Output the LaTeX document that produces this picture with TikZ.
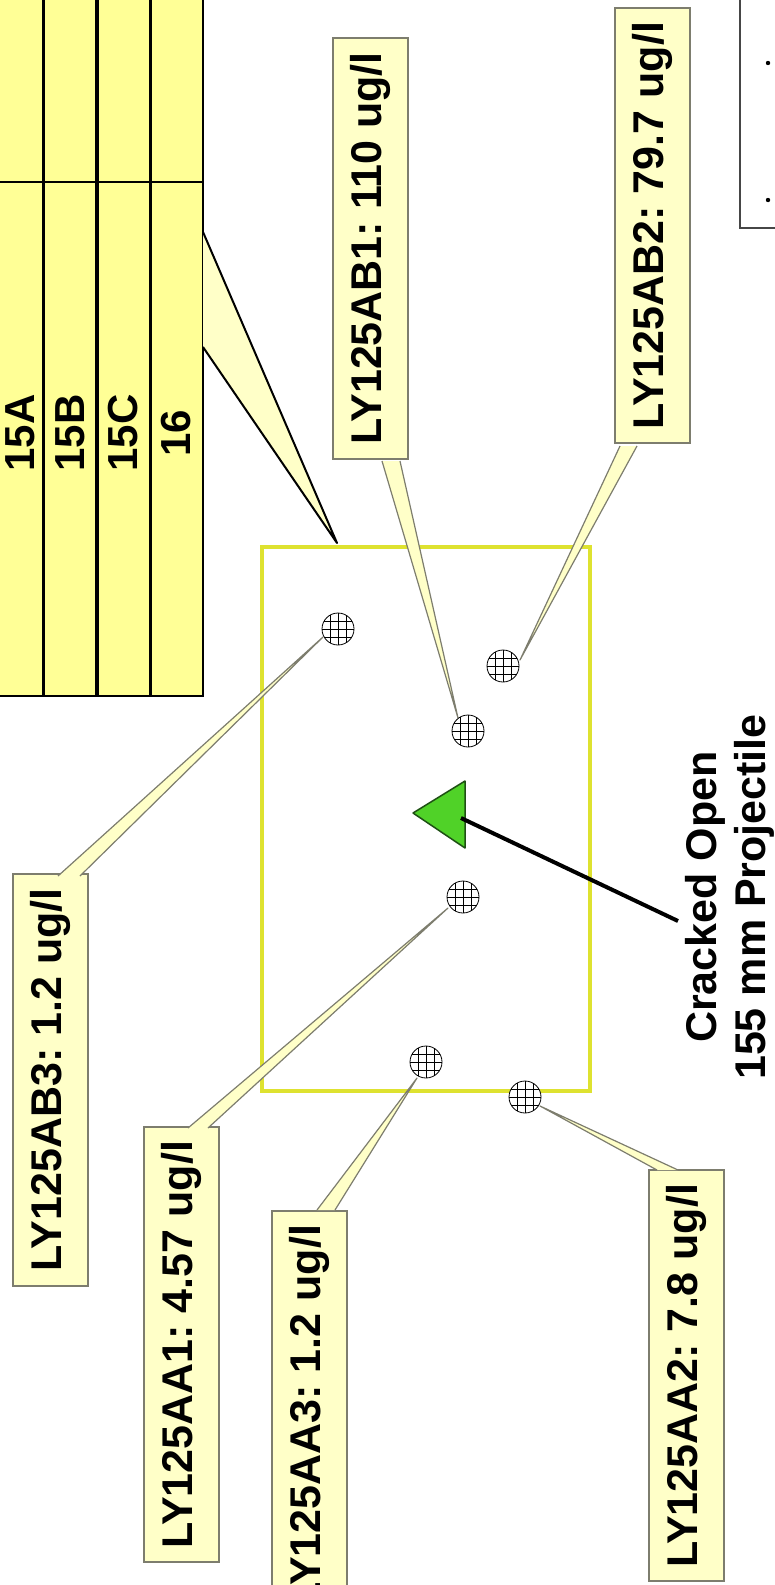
\documentclass[tikz,border=0pt]{standalone}
\usepackage{fontspec}
\setmainfont{Liberation Sans}
\frenchspacing
\definecolor{cellyellow}{RGB}{255,255,150}
\definecolor{lblfill}{RGB}{255,255,200}
\definecolor{lblgray}{RGB}{125,125,110}
\definecolor{rectyellow}{RGB}{222,226,48}
\definecolor{projgreen}{RGB}{80,210,40}
\definecolor{darkgreen}{RGB}{30,80,20}
\definecolor{legendgray}{RGB}{70,70,70}
\newcommand{\calloutwedge}[3]{%
  \fill[lblfill] #1 -- #3 -- #2 -- cycle;
  \draw[lblgray, line width=1.2pt, line join=round] #1 -- #3 -- #2;}
\begin{document}
\begin{tikzpicture}[x=1pt,y=-1pt,
  cellfont/.style={font=\bfseries\fontsize{42}{50}\selectfont},
  lbl/.style={draw=lblgray, line width=2pt, fill=lblfill, rotate=90,
    inner xsep=14pt, inner ysep=0pt, minimum height=75pt,
    font=\bfseries\fontsize{43}{50}\selectfont},
  sample/.style={circle, draw=black, line width=0.8pt, fill=white,
    minimum size=32pt, inner sep=0pt,
    path picture={\foreach \d in {-8,0,8}{
      \draw[line width=0.6pt] ([xshift=\d pt]path picture bounding box.north) -- ([xshift=\d pt]path picture bounding box.south);
      \draw[line width=0.6pt] ([yshift=\d pt]path picture bounding box.west) -- ([yshift=\d pt]path picture bounding box.east);}}}
]
\useasboundingbox (0,0) rectangle (775,1585);
\clip (0,0) rectangle (775,1585);

% table
\fill[cellyellow] (-5,-5) rectangle (203,696);
\foreach \x/\w in {43/3,97/4,150/3,203/2.5} \draw[line width=\w pt] (\x,-5) -- (\x,696);
\draw[line width=2pt] (-5,182) -- (203,182);
\draw[line width=2.5pt] (-5,696) -- (204,696);
\node[cellfont, rotate=90] (c15a) at (20,433) {15A};
\node[cellfont, rotate=90] (c15b) at (70,433) {15B};
\node[cellfont, rotate=90] (c15c) at (123.5,433) {15C};
\node[cellfont, rotate=90] (c16) at (176.5,433) {16};

% field rectangle
\node[draw=rectyellow, line width=4pt, minimum width=328pt, minimum height=544pt, inner sep=0pt] (field) at (426,819) {};

% table callout
\coordinate (tw1) at (203,232);
\coordinate (tw2) at (203,347);
\coordinate (twtip) at (337,543);
\fill[lblfill] (tw1) -- (twtip) -- (tw2) -- cycle;
\draw[line width=2pt, line join=round] (tw1) -- (twtip) -- (tw2);

% labels
\node[lbl] (ab1) at (370.5,248.5) {LY125AB1: 110 ug/l};
\node[lbl] (ab2) at (652.5,225.5) {LY125AB2: 79.7 ug/l};
\node[lbl] (ab3) at (50.5,1080) {LY125AB3: 1.2 ug/l};
\node[lbl] (aa1) at (181,1344.5) {LY125AA1: 4.57 ug/l};
\node[lbl] (aa3) at (309.5,1416.5) {LY125AA3: 1.2 ug/l};
\node[lbl] (aa2) at (686.5,1375.5) {LY125AA2: 7.8 ug/l};

% label callouts
\calloutwedge{(382,461)}{(400,461)}{(458,718)}
\calloutwedge{(620,446)}{(637,446)}{(520,660)}
\calloutwedge{(58,876)}{(80,876)}{(323,637)}
\calloutwedge{(188,1128)}{(208,1128)}{(448,908)}
\calloutwedge{(317,1210)}{(335,1210)}{(417,1078)}
\calloutwedge{(657,1170)}{(678,1170)}{(540,1106)}

% sample points
\node[sample] (sab3) at (338,629) {};
\node[sample] (sab1) at (468,731) {};
\node[sample] (sab2) at (503,666) {};
\node[sample] (saa1) at (463,897) {};
\node[sample] (saa3) at (426,1062) {};
\node[sample] (saa2) at (525,1097) {};

% projectile
\filldraw[fill=projgreen, draw=darkgreen, line width=1.5pt, line join=round] (413,813) -- (465,781) -- (465,848) -- cycle;
\coordinate (proj) at (461,818);
\node[font=\bfseries\fontsize{43}{49}\selectfont, rotate=90, align=center, anchor=north, inner sep=0pt] (cracked) at (685,897) {Cracked Open\\155 mm Projectile};
\coordinate (arrowend) at (678,921);
\draw[line width=4pt] (proj) -- (arrowend);

% legend box (partly visible)
\draw[legendgray, line width=2pt] (740,-5) -- (740,228) -- (790,228);
\fill (768,63) circle (2.2pt);
\fill (768,200) circle (2.2pt);
\end{tikzpicture}
\end{document}
